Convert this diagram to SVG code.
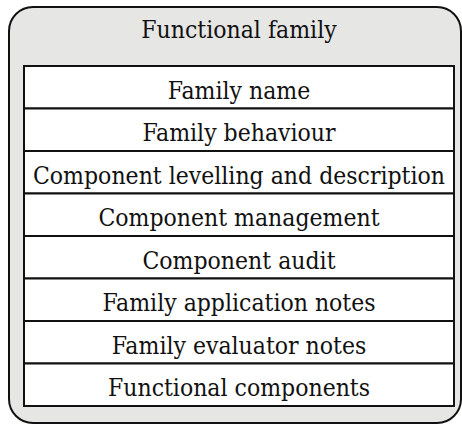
<svg xmlns="http://www.w3.org/2000/svg" width="462" height="425" viewBox="0 0 462 425">
<style>
.t{font-family:"DejaVu Serif Condensed","DejaVu Serif","Liberation Serif",serif;font-stretch:condensed;font-size:24.5px;fill:#111;text-anchor:middle}
.row{fill:#fff;stroke:#111;stroke-width:2}
</style>
<rect width="462" height="425" fill="#fff"/>
<g id="family">
<rect x="9" y="7" width="452" height="416" rx="24" ry="24" fill="#e6e6e5" stroke="#111" stroke-width="2"/>
<text class="t" x="239" y="38">Functional family</text>
</g>
<g id="rows">
<g id="r1"><rect class="row" x="24" y="66" width="430" height="42.5"/><text class="t" x="239" y="98.5">Family name</text></g>
<g id="r2"><rect class="row" x="24" y="108.5" width="430" height="42.5"/><text class="t" x="239" y="141">Family behaviour</text></g>
<g id="r3"><rect class="row" x="24" y="151" width="430" height="42.5"/><text class="t" x="239" y="183.5">Component levelling and description</text></g>
<g id="r4"><rect class="row" x="24" y="193.5" width="430" height="42.5"/><text class="t" x="239" y="226">Component management</text></g>
<g id="r5"><rect class="row" x="24" y="236" width="430" height="42.5"/><text class="t" x="239" y="268.5">Component audit</text></g>
<g id="r6"><rect class="row" x="24" y="278.5" width="430" height="42.5"/><text class="t" x="239" y="311">Family application notes</text></g>
<g id="r7"><rect class="row" x="24" y="321" width="430" height="42.5"/><text class="t" x="239" y="353.5">Family evaluator notes</text></g>
<g id="r8"><rect class="row" x="24" y="363.5" width="430" height="42.5"/><text class="t" x="239" y="396">Functional components</text></g>
</g>
</svg>
